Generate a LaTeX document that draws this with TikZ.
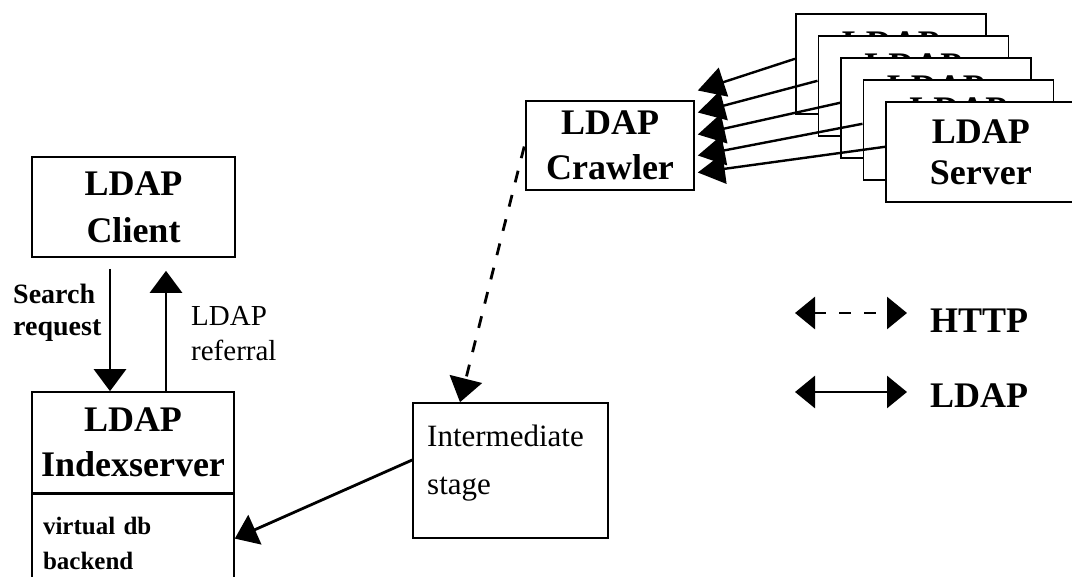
\documentclass[tikz,border=0pt]{standalone}
\usepackage{fontspec}
\setmainfont{Liberation Serif}
\usetikzlibrary{arrows.meta,calc}
\begin{document}
\begin{tikzpicture}[x=1pt,y=-1pt,
  box/.style={draw,line width=1.6pt,inner sep=0pt,align=center,fill=white},
  big/.style={font=\fontsize{36}{45}\selectfont\bfseries},
  arr/.style={line width=2.8pt,-{Triangle[length=22pt,width=32pt]}},
  srvarr/.style={line width=2.4pt,-{Triangle[length=27pt,width=30pt]}},
  dsh/.style={dash pattern=on 12pt off 13pt}]
\clip (0,0) rectangle (1072,577);
\fill[white] (0,0) rectangle (1072,577);

% client and index server
\node[box,minimum width=203pt,minimum height=100pt,font=\fontsize{36}{47}\selectfont\bfseries] (client) at (133.5,207) {LDAP\\Client};
\node[box,big,minimum width=202pt,minimum height=101pt] (idx) at (133,442.5) {LDAP\\Indexserver};
\node[box,anchor=north,minimum width=202pt,minimum height=98pt,text width=180pt,inner xsep=11pt,align=left,font=\fontsize{25}{35}\selectfont\bfseries] (vdb) at (idx.south) {virtual db\\backend};

% labels
\node[anchor=north west,inner sep=0pt,align=left,font=\fontsize{28}{32}\selectfont\bfseries] (search) at (13,284) {Search\\request};
\node[anchor=north west,inner sep=0pt,align=left,font=\fontsize{29}{35}\selectfont] (referral) at (191,306) {LDAP\\referral};

\draw[arr] ($(client.south)+(-23.5,11)$) -- ($(idx.north)+(-23,0)$);
\draw[arr] ($(idx.north)+(33,0)$) -- ($(client.south)+(32.5,13)$);

% servers
\foreach \i in {1,...,5}{
  \node[box,anchor=north west,minimum width=190pt,minimum height=100pt,font=\fontsize{36}{41}\selectfont\bfseries]
    (s\i) at ({795+22.5*(\i-1)},{13+22*(\i-1)}) {LDAP\\Server};
}

% crawler
\node[box,big,minimum width=168pt,minimum height=89pt] (crawler) at (610,145.5) {LDAP\\Crawler};

\draw[srvarr] ($(s1.west)+(0,-5)$) -- ($(crawler.east)+(3,-55)$);
\draw[srvarr] ($(s2.west)+(0,-5)$) -- ($(crawler.east)+(3,-33)$);
\draw[srvarr] ($(s3.west)+(0,-5)$) -- ($(crawler.east)+(3,-11)$);
\draw[srvarr] ($(s4.west)+(0,-6)$) -- ($(crawler.east)+(3,10)$);
\draw[srvarr] ($(s5.west)+(0,-5)$) -- ($(crawler.east)+(3,27)$);

% intermediate
\node[box,minimum width=195pt,minimum height=135pt] (inter) at (510.5,470.5) {};
\node[anchor=north west,inner sep=0pt,align=left,font=\fontsize{31}{48}\selectfont] (intertext) at (427,424.5) {Intermediate\\stage};

\draw[line width=2.8pt,dsh,-{Triangle[length=24pt,width=33pt,sep=0pt]}] ($(crawler.west)+(-1,1)$) -- ($(inter.north)+(-50.5,0)$);
\draw[arr] ($(inter.west)+(0,-10.5)$) -- ($(vdb.east)+(0,-5)$);

% legend
\coordinate (h1) at (795,313);
\coordinate (h2) at (907,313);
\coordinate (l1) at (795,392);
\coordinate (l2) at (907,392);
\draw[line width=2.8pt,dsh,{Triangle[length=20pt,width=32pt]}-{Triangle[length=20pt,width=32pt]}] (h1) -- (h2);
\draw[line width=2.8pt,{Triangle[length=20pt,width=32pt]}-{Triangle[length=20pt,width=32pt]}] (l1) -- (l2);
\node[anchor=base west,inner sep=0pt,font=\fontsize{36}{45}\selectfont\bfseries] (lhttp) at (930,333) {HTTP};
\node[anchor=base west,inner sep=0pt,font=\fontsize{36}{45}\selectfont\bfseries] (lldap) at (930,408) {LDAP};
\end{tikzpicture}
\end{document}
